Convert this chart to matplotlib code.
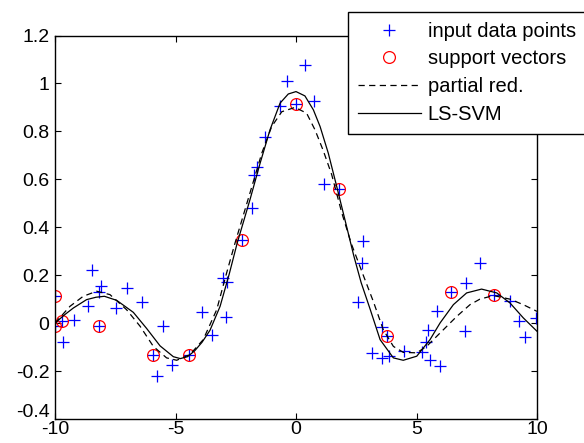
import numpy as np
import matplotlib
matplotlib.use("Agg")
import matplotlib.pyplot as plt
from matplotlib.transforms import ScaledTranslation

matplotlib.rc('font', family=['Liberation Sans', 'DejaVu Sans'], size=14)

# input data points
x_data = [-10.0, -10.0, -9.7, -9.68, -9.2, -8.48, -8.09, -8.17, -8.62, -8.16,
          -7.47, -7.0, -6.4, -5.5, -5.95, -5.78, -5.15, -4.44, -3.47, -3.91,
          -2.9, -3.04, -2.85, -2.25, -1.84, -1.73, -1.6, -1.29, -0.66, -0.39,
          0.38, 0.0, 0.76, 1.16, 1.8, 2.77, 2.75, 2.58, 3.58, 3.79,
          3.16, 3.58, 3.86, 4.47, 5.21, 5.38, 5.46, 5.56, 5.97, 5.85,
          6.43, 7.05, 7.63, 7.01, 8.22, 8.89, 9.26, 9.5, 9.95]
y_data = [0.112, -0.01, 0.01, -0.08, 0.013, 0.223, 0.156, 0.13, 0.07, -0.01,
          0.063, 0.145, 0.09, -0.01, -0.131, -0.219, -0.175, -0.131, -0.048, 0.045,
          0.024, 0.19, 0.17, 0.348, 0.48, 0.62, 0.653, 0.776, 0.906, 1.012,
          1.077, 0.915, 0.928, 0.58, 0.56, 0.344, 0.25, 0.09, -0.018, -0.052,
          -0.125, -0.145, -0.138, -0.118, -0.12, -0.08, -0.027, -0.152, -0.18, 0.05,
          0.128, 0.167, 0.25, -0.031, 0.118, 0.091, 0.008, -0.058, 0.02]

# support vectors
x_sv = [-10.0, -10.0, -9.7, -8.16, -5.95, -4.44, -2.25, 0.0, 1.8, 3.79, 6.43, 8.22]
y_sv = [0.112, -0.01, 0.01, -0.01, -0.131, -0.131, 0.348, 0.915, 0.56, -0.052, 0.128, 0.118]

# partial reduction curve
x_red = [-10, -9.38, -8.83, -8.27, -7.72, -7.03, -6.47, -5.92, -5.37, -4.95,
         -4.4, -3.85, -3.29, -2.88, -2.53, -1.91, -1.42, -1.01, -0.59, -0.04,
         0.44, 0.79, 1.13, 1.48, 1.9, 2.3, 2.79, 3.21, 3.62, 4.04,
         4.45, 5.01, 5.42, 5.98, 6.67, 7.22, 7.63, 8.19, 8.88, 9.43, 10.0]
y_red = [0.0, 0.07, 0.112, 0.133, 0.119, 0.056, -0.013, -0.097, -0.145, -0.155,
         -0.131, -0.069, 0.056, 0.209, 0.334, 0.543, 0.709, 0.82, 0.882, 0.9,
         0.876, 0.806, 0.72, 0.62, 0.46, 0.33, 0.2, 0.09, -0.027, -0.097,
         -0.122, -0.124, -0.097, -0.041, 0.028, 0.077, 0.1, 0.115, 0.1, 0.077, 0.049]

# LS-SVM curve
x_ls = [-10, -9.6, -9.24, -8.69, -8.3, -7.95, -7.44, -6.75, -6.2, -5.64,
        -5.09, -4.8, -4.5, -4.2, -3.9, -3.57, -3.15, -2.77, -2.44, -1.91,
        -1.49, -1.08, -0.66, -0.32, 0.0, 0.37, 0.72, 1.0, 1.34, 1.69,
        2.1, 2.4, 2.7, 3.07, 3.49, 4.04, 4.45, 5.01, 5.56, 5.98,
        6.53, 7.08, 7.7, 8.33, 8.88, 9.43, 10.0]
y_ls = [0.0, 0.035, 0.063, 0.098, 0.108, 0.112, 0.095, 0.045, -0.022, -0.095,
        -0.14, -0.148, -0.14, -0.115, -0.08, -0.03, 0.07, 0.205, 0.334, 0.515,
        0.667, 0.806, 0.918, 0.956, 0.966, 0.948, 0.89, 0.82, 0.709, 0.57,
        0.403, 0.28, 0.17, 0.06, -0.069, -0.145, -0.155, -0.138, -0.069, 0.001,
        0.077, 0.126, 0.142, 0.126, 0.084, 0.022, -0.034]

xticks = [-10, -5, 0, 5, 10]
yticks = [-0.4, -0.2, 0, 0.2, 0.4, 0.6, 0.8, 1, 1.2]
ytick_labels = ['-0.4', '-0.2', '0', '0.2', '0.4', '0.6', '0.8', '1', '1.2']

fig = plt.figure(figsize=(5.84, 4.43), dpi=100)
ax = fig.add_axes([55 / 584, 24 / 443, 482 / 584, 383.5 / 443])

ax.plot(x_data, y_data, '+', color='blue', ms=8, mew=0.9, label='input data points')
ax.plot(x_sv, y_sv, 'o', mfc='none', mec='red', ms=8.5, mew=0.9, label='support vectors')
ax.plot(x_red, y_red, color='black', lw=0.9, linestyle=(0, (5, 3.5)), label='partial red.')
ax.plot(x_ls, y_ls, color='black', lw=0.9, label='LS-SVM')

ax.set_xlim(-10, 10)
ax.set_ylim(-0.4, 1.2)
ax.set_xticks(xticks)
ax.set_xticklabels([str(t) for t in xticks])
ax.set_yticks(yticks)
ax.set_yticklabels(ytick_labels)
ax.tick_params(direction='in', top=True, right=True, length=4, width=0.8)
ax.tick_params(axis='x', pad=1.5)
ax.tick_params(axis='y', pad=4)
for s in ax.spines.values():
    s.set_linewidth(1.0)

# bottom y label sits a little higher, as in the original
lab = ax.get_yticklabels()[0]
lab.set_transform(lab.get_transform() + ScaledTranslation(0, 6 / 72, fig.dpi_scale_trans))

leg = ax.legend(loc='upper left', bbox_to_anchor=(0.608, 1.062), frameon=True,
                fancybox=False, edgecolor='black', framealpha=1, borderaxespad=0,
                fontsize=14.5, handlelength=3.1, handletextpad=0.35,
                labelspacing=0.43, borderpad=0.5)
leg.get_frame().set_linewidth(1.0)

plt.savefig('out.png', dpi=100)
